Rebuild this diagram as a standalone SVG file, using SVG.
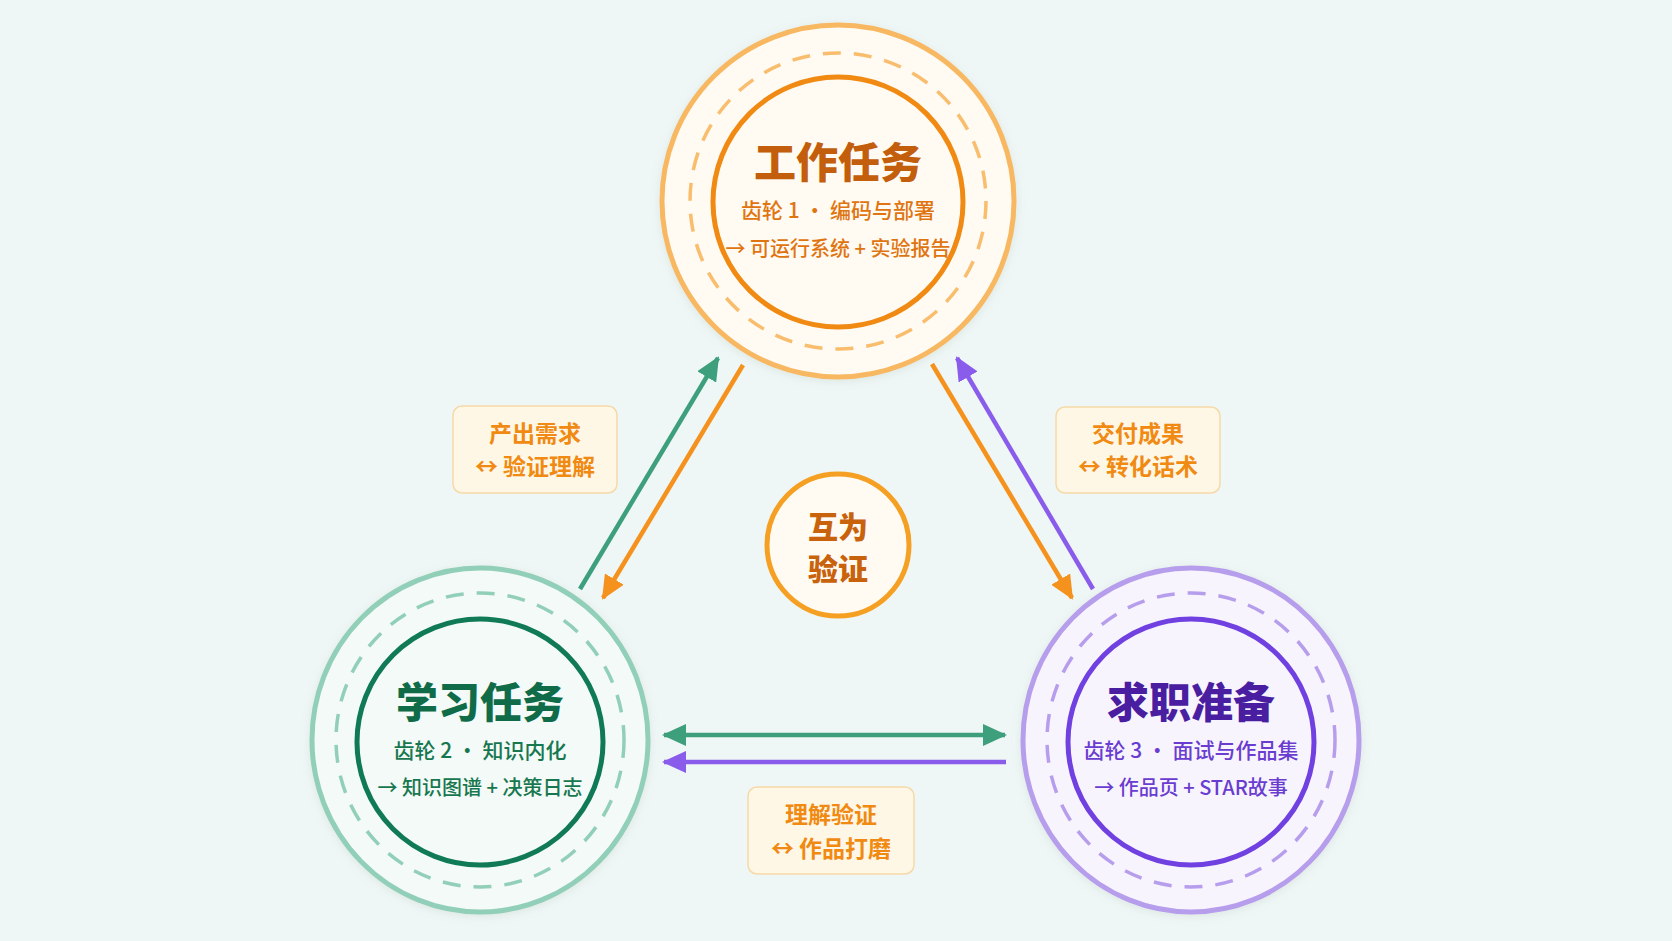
<svg xmlns="http://www.w3.org/2000/svg" width="1672" height="941" viewBox="0 0 1672 941">
<defs>
<style>
text{font-family:"Noto Sans CJK SC","Noto Sans",sans-serif;text-anchor:middle}
.title{font-size:42px;font-weight:900}
.sub{font-size:21px;font-weight:500}
.out{font-size:20px;font-weight:500}
.lbl{font-size:23px;font-weight:700;fill:#F08A12}
.box{fill:#FFF7E6;stroke:#F6D9A8;stroke-width:1.5}
.ring{stroke-width:5}
.dash{fill:none;stroke-width:3.5;stroke-dasharray:18 13}
.inner{fill:none;stroke-width:5}
.arr{fill:none;stroke-width:4.5}
</style>
<filter id="sh" x="-20%" y="-20%" width="140%" height="140%">
<feDropShadow dx="0" dy="2" stdDeviation="4" flood-color="#8a9a90" flood-opacity="0.18"/>
</filter>
<marker id="mg" viewBox="0 0 24 22" refX="22" refY="11" markerWidth="24" markerHeight="22" markerUnits="userSpaceOnUse" orient="auto-start-reverse"><path d="M0,0 L24,11 L0,22 z" fill="#3E9F7C"/></marker>
<marker id="mo" viewBox="0 0 24 22" refX="22" refY="11" markerWidth="24" markerHeight="22" markerUnits="userSpaceOnUse" orient="auto-start-reverse"><path d="M0,0 L24,11 L0,22 z" fill="#F5921E"/></marker>
<marker id="mp" viewBox="0 0 24 22" refX="22" refY="11" markerWidth="24" markerHeight="22" markerUnits="userSpaceOnUse" orient="auto-start-reverse"><path d="M0,0 L24,11 L0,22 z" fill="#8A5CEB"/></marker>
</defs>
<rect width="1672" height="941" fill="#EEF7F5"/>

<g id="connectors">
<line class="arr" x1="580" y1="589" x2="718" y2="358" stroke="#3E9F7C" marker-end="url(#mg)"/>
<line class="arr" x1="743" y1="365" x2="603" y2="598" stroke="#F5921E" marker-end="url(#mo)"/>
<line class="arr" x1="932" y1="364" x2="1072" y2="598" stroke="#F5921E" marker-end="url(#mo)"/>
<line class="arr" x1="1093" y1="589" x2="957" y2="358" stroke="#8A5CEB" marker-end="url(#mp)"/>
<line class="arr" x1="664" y1="735" x2="1005" y2="735" stroke="#3E9F7C" marker-start="url(#mg)" marker-end="url(#mg)"/>
<line class="arr" x1="1006" y1="762" x2="664" y2="762" stroke="#8A5CEB" marker-end="url(#mp)"/>
</g>

<g id="work">
<circle class="ring" cx="838" cy="201" r="176" fill="#FFFAF2" stroke="#F8B862" filter="url(#sh)"/>
<circle class="dash" cx="838" cy="201" r="148" stroke="#F9BD6E"/>
<circle class="inner" cx="838" cy="202" r="125" stroke="#F08A12"/>
<text class="title" x="838" y="178" fill="#C25E0C">工作任务</text>
<text class="sub" x="838" y="218" fill="#DF7510">齿轮 1 · 编码与部署</text>
<text class="out" x="838" y="256" fill="#DF7510">→ 可运行系统 + 实验报告</text>
</g>

<g id="learn">
<ellipse class="ring" cx="480" cy="740" rx="168" ry="172" fill="#F3FAF7" stroke="#92CFB8" filter="url(#sh)"/>
<ellipse class="dash" cx="480" cy="740" rx="144" ry="147" stroke="#92CFB8"/>
<circle class="inner" cx="480" cy="742" r="123" stroke="#0F7A55"/>
<text class="title" x="480" y="718" fill="#0F6B48">学习任务</text>
<text class="sub" x="480" y="758" fill="#17774F">齿轮 2 · 知识内化</text>
<text class="out" x="480" y="795" fill="#17774F">→ 知识图谱 + 决策日志</text>
</g>

<g id="job">
<ellipse class="ring" cx="1191" cy="740" rx="168" ry="172" fill="#F7F4FE" stroke="#B79EEC" filter="url(#sh)"/>
<ellipse class="dash" cx="1191" cy="740" rx="144" ry="147" stroke="#B79EEC"/>
<circle class="inner" cx="1191" cy="742" r="123" stroke="#7040E0"/>
<text class="title" x="1191" y="718" fill="#4A1EA0">求职准备</text>
<text class="sub" x="1191" y="758" fill="#6A3CD0">齿轮 3 · 面试与作品集</text>
<text class="out" x="1191" y="795" fill="#6A3CD0">→ 作品页 + STAR故事</text>
</g>

<g id="center">
<circle cx="838" cy="545" r="71" fill="#FFFAF2" stroke="#F5A023" stroke-width="5"/>
<text x="838" y="538" font-size="30" font-weight="900" fill="#C8620C">互为</text>
<text x="838" y="580" font-size="30" font-weight="900" fill="#C8620C">验证</text>
</g>

<g id="label-left">
<rect class="box" x="453" y="406" width="164" height="87" rx="9"/>
<text class="lbl" x="535" y="442">产出需求</text>
<text class="lbl" x="535" y="475">↔ 验证理解</text>
</g>

<g id="label-right">
<rect class="box" x="1056" y="407" width="164" height="86" rx="9"/>
<text class="lbl" x="1138" y="442">交付成果</text>
<text class="lbl" x="1138" y="475">↔ 转化话术</text>
</g>

<g id="label-bottom">
<rect class="box" x="748" y="787" width="166" height="87" rx="9"/>
<text class="lbl" x="831" y="823">理解验证</text>
<text class="lbl" x="831" y="857">↔ 作品打磨</text>
</g>
</svg>
